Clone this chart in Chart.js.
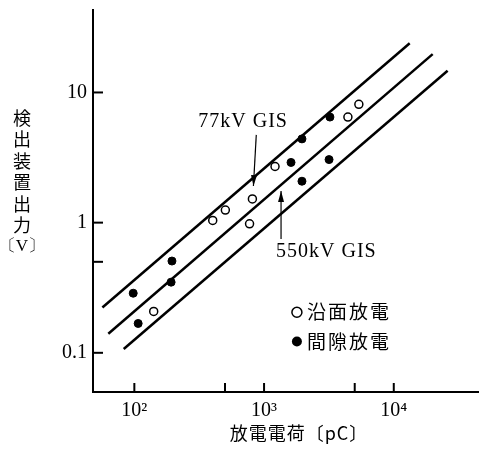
<!DOCTYPE html>
<html><head><meta charset="utf-8">
<script src="https://cdn.jsdelivr.net/npm/chart.js@4"></script>
<style>html,body{margin:0;padding:0;background:#fff}#wrap{width:484px;height:451px}</style>
</head><body><div id="wrap"><canvas id="c" width="484" height="451"></canvas></div>
<script>
// Tick values and labels
const xTickValues = [100, 1000, 10000];
const xTickLabels = ['10²', '10³', '10⁴'];
const xMinorTicks = [500, 5000];
const yTickValues = [0.1, 1, 10];
const yTickLabels = ['0.1', '1', '10'];
const yMinorTicks = [0.5];

// 沿面放電 (open circles)
const surfaceQ = [141, 402, 503, 773, 813, 1215, 4430, 5380];
const surfaceV = [0.208, 1.04, 1.25, 0.98, 1.52, 2.70, 6.47, 8.11];
// 間隙放電 (filled circles)
const gapQ = [98, 107, 195, 192, 1614, 1960, 1960, 3220, 3170];
const gapV = [0.287, 0.168, 0.507, 0.349, 2.90, 4.40, 2.08, 6.47, 3.05];

// Boundary lines (start/end)
const upperQ = [56.7, 13270];
const upperV = [0.223, 23.9];
const middleQ = [63, 19950];
const middleV = [0.140, 19.7];
const lowerQ = [82.8, 26000];
const lowerV = [0.107, 14.7];

const legendLabels = ['沿面放電', '間隙放電'];
const xTitle = '放電電荷〔pC〕';
const yTitleChars = ['検', '出', '装', '置', '出', '力'];
const yTitleUnit = '〔V〕';

const pts = (xs, ys) => xs.map((x, i) => ({x: x, y: ys[i]}));

const serif = '"Liberation Serif", "DejaVu Serif", serif';
const jp = '"Noto Sans CJK JP", sans-serif';

const decor = {
  id: 'decor',
  afterDraw(chart) {
    const ctx = chart.ctx;
    const xs = chart.scales.x, ys = chart.scales.y;
    const ca = chart.chartArea;
    ctx.save();
    ctx.strokeStyle = '#000';
    ctx.fillStyle = '#000';
    ctx.lineWidth = 2;
    // inward tick marks
    xTickValues.concat(xMinorTicks).forEach(v => {
      const px = xs.getPixelForValue(v);
      ctx.beginPath(); ctx.moveTo(px, ca.bottom); ctx.lineTo(px, ca.bottom - 9); ctx.stroke();
    });
    yTickValues.concat(yMinorTicks).forEach(v => {
      const py = ys.getPixelForValue(v);
      ctx.beginPath(); ctx.moveTo(ca.left, py); ctx.lineTo(ca.left + 10, py); ctx.stroke();
    });

    // annotations
    ctx.font = '20px ' + serif;
    ctx.letterSpacing = '1px';
    ctx.textBaseline = 'middle';
    ctx.textAlign = 'center';
    ctx.fillText('77kV GIS', xs.getPixelForValue(690), ys.getPixelForValue(5.93));
    ctx.textAlign = 'left';
    ctx.fillText('550kV GIS', xs.getPixelForValue(1237), ys.getPixelForValue(0.596));
    ctx.letterSpacing = '0px';

    // arrows
    ctx.lineWidth = 1.2;
    const arrow = (x1, y1, x2, y2) => {
      const ax = xs.getPixelForValue(x1), ay = ys.getPixelForValue(y1);
      const bx = xs.getPixelForValue(x2), by = ys.getPixelForValue(y2);
      ctx.beginPath(); ctx.moveTo(ax, ay); ctx.lineTo(bx, by); ctx.stroke();
      const ang = Math.atan2(by - ay, bx - ax);
      const L = 11, W = 3;
      ctx.beginPath();
      ctx.moveTo(bx, by);
      ctx.lineTo(bx - L * Math.cos(ang) + W * Math.sin(ang), by - L * Math.sin(ang) - W * Math.cos(ang));
      ctx.lineTo(bx - L * Math.cos(ang) - W * Math.sin(ang), by - L * Math.sin(ang) + W * Math.cos(ang));
      ctx.closePath(); ctx.fill();
    };
    arrow(871, 4.72, 828, 1.91);
    arrow(1352, 0.75, 1352, 1.75);

    // legend
    const lx = xs.getPixelForValue(2140);
    const ly1 = ys.getPixelForValue(0.205), ly2 = ys.getPixelForValue(0.122);
    ctx.lineWidth = 1.5;
    ctx.beginPath(); ctx.arc(lx - 10, ly1, 5, 0, Math.PI * 2); ctx.stroke();
    ctx.beginPath(); ctx.arc(lx - 10, ly2, 5, 0, Math.PI * 2); ctx.fill();
    ctx.font = '19px ' + jp;
    ctx.letterSpacing = '2px';
    ctx.textAlign = 'left';
    ctx.fillText(legendLabels[0], lx, ly1);
    ctx.fillText(legendLabels[1], lx, ly2);

    // axis titles
    ctx.font = '18px ' + jp;
    ctx.letterSpacing = '1px';
    ctx.textAlign = 'center';
    ctx.fillText(xTitle, 299, 433);
    ctx.letterSpacing = '0px';
    ctx.font = '18px ' + jp;
    yTitleChars.forEach((c, i) => ctx.fillText(c, 22, 118 + i * 21.5));
    ctx.font = '17px ' + serif;
    ctx.fillText(yTitleUnit, 22, 247);
    ctx.restore();
  }
};

new Chart(document.getElementById('c'), {
  data: {
    datasets: [
      {type: 'line', data: pts(upperQ, upperV), borderColor: '#000', borderWidth: 2.5, pointRadius: 0, fill: false},
      {type: 'line', data: pts(middleQ, middleV), borderColor: '#000', borderWidth: 2.5, pointRadius: 0, fill: false},
      {type: 'line', data: pts(lowerQ, lowerV), borderColor: '#000', borderWidth: 2.5, pointRadius: 0, fill: false},
      {type: 'scatter', label: legendLabels[0], data: pts(surfaceQ, surfaceV), pointRadius: 4, pointBorderWidth: 1.5, pointBorderColor: '#000', pointBackgroundColor: '#fff'},
      {type: 'scatter', label: legendLabels[1], data: pts(gapQ, gapV), pointRadius: 4, pointBorderWidth: 1, pointBorderColor: '#000', pointBackgroundColor: '#000'}
    ]
  },
  options: {
    responsive: false,
    animation: false,
    layout: {padding: {top: 10, right: -5, left: 0, bottom: 0}},
    plugins: {legend: {display: false}, tooltip: {enabled: false}},
    scales: {
      x: {
        type: 'logarithmic', min: 48, max: 45000,
        afterBuildTicks: s => { s.ticks = xTickValues.map(v => ({value: v})); },
        afterFit: s => { s.height = 59; s.paddingLeft = 0; s.paddingRight = 0; },
        grid: {display: false, drawTicks: false},
        border: {display: true, color: '#000', width: 2},
        ticks: {autoSkip: false, maxRotation: 0, padding: 7, color: '#000', font: {family: serif, size: 20},
          callback: (v, i) => xTickLabels[i]}
      },
      y: {
        type: 'logarithmic', min: 0.05, max: 43,
        afterBuildTicks: s => { s.ticks = yTickValues.map(v => ({value: v})); },
        afterFit: s => { s.width = 93; s.paddingTop = 0; s.paddingBottom = 0; },
        grid: {display: false, drawTicks: false},
        border: {display: true, color: '#000', width: 2},
        ticks: {autoSkip: false, padding: 6, color: '#000', font: {family: serif, size: 20},
          callback: (v, i) => yTickLabels[i]}
      }
    }
  },
  plugins: [decor]
});
</script></body></html>
